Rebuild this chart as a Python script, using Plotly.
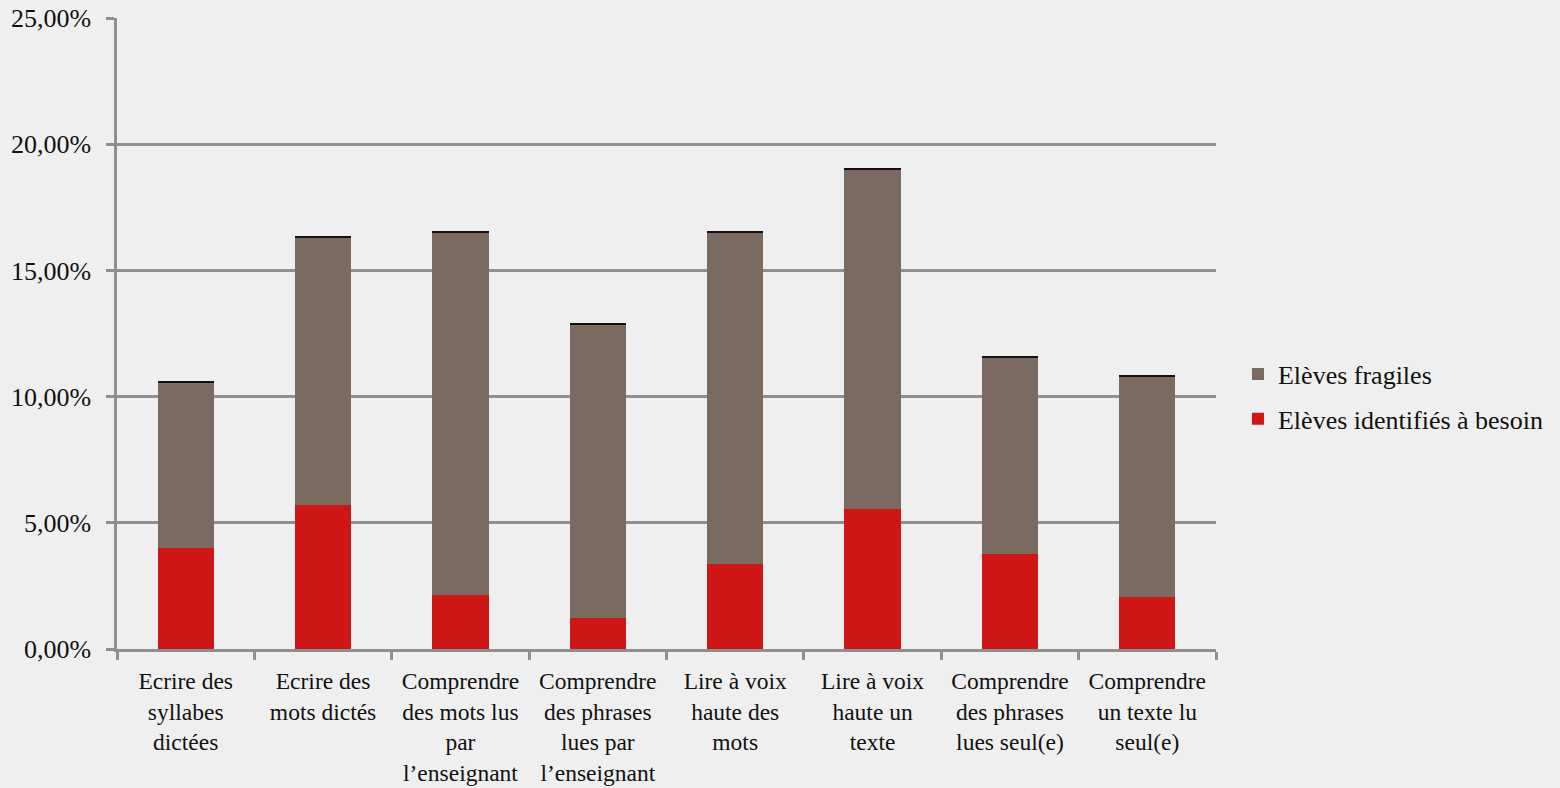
import plotly.graph_objects as go

categories = [
    "Ecrire des<br>syllabes<br>dictées",
    "Ecrire des<br>mots dictés",
    "Comprendre<br>des mots lus<br>par<br>l’enseignant",
    "Comprendre<br>des phrases<br>lues par<br>l’enseignant",
    "Lire à voix<br>haute des<br>mots",
    "Lire à voix<br>haute un<br>texte",
    "Comprendre<br>des phrases<br>lues seul(e)",
    "Comprendre<br>un texte lu<br>seul(e)",
]
besoin = [4.02, 5.69, 2.14, 1.23, 3.37, 5.55, 3.76, 2.06]
totals = [10.55, 16.30, 16.50, 12.86, 16.50, 19.00, 11.55, 10.78]
fragiles = [round(t - b, 2) for t, b in zip(totals, besoin)]
autres = [0.07, 0.07, 0.07, 0.07, 0.07, 0.07, 0.07, 0.07]

y_ticks = [0, 5, 10, 15, 20, 25]
y_tick_labels = ["0,00%", "5,00%", "10,00%", "15,00%", "20,00%", "25,00%"]

FAM = "Liberation Serif, Times New Roman, serif"
x_font = dict(family=FAM, size=23.5, color="#111111")
y_font = dict(family=FAM, size=26, color="#111111")
legend_font = dict(family=FAM, size=26, color="#111111")

fig = go.Figure()
fig.add_trace(go.Bar(
    x=categories, y=besoin, name="Elèves identifiés à besoin",
    legendgroup="b", legendrank=2,
    marker=dict(color="#cf1616", line=dict(width=0)), width=0.41,
))
fig.add_trace(go.Bar(
    x=categories, y=fragiles, name="Elèves fragiles",
    legendgroup="f", legendrank=1,
    marker=dict(color="#7a6a60", line=dict(width=0)), width=0.41,
))
fig.add_trace(go.Bar(
    x=categories, y=autres, name="", showlegend=False,
    marker=dict(color="#111111", line=dict(width=0)), width=0.41,
    hoverinfo="skip",
))

fig.update_layout(
    barmode="stack",
    width=1560, height=788,
    margin=dict(l=117, r=342, t=18, b=139),
    paper_bgcolor="#efefef",
    plot_bgcolor="#efefef",
    font=x_font,
    showlegend=True,
    legend=dict(
        x=1.02, y=0.40, xanchor="left", yanchor="middle",
        traceorder="grouped", font=legend_font,
        bgcolor="rgba(0,0,0,0)", itemwidth=30, tracegroupgap=8,
    ),
)
fig.update_yaxes(
    range=[0, 25], tickvals=y_ticks, ticktext=y_tick_labels,
    showgrid=True, gridcolor="#8f8f8f", gridwidth=2.5,
    showline=True, linecolor="#8f8f8f", linewidth=2.5,
    ticks="outside", ticklen=8, tickcolor="#8f8f8f", tickwidth=2.5,
    zeroline=False, tickfont=y_font, automargin=False,
    ticklabelstandoff=10,
)
fig.update_xaxes(
    showline=True, linecolor="#8f8f8f", linewidth=2.5,
    ticks="outside", ticklen=8, tickcolor="#8f8f8f", tickwidth=2.5,
    tickson="boundaries", tickfont=x_font, tickangle=0,
    automargin=False, ticklabelstandoff=9,
)

fig.write_html(
    "out.html",
    config={"displayModeBar": False},
    post_script="document.body.style.margin='0';",
)
